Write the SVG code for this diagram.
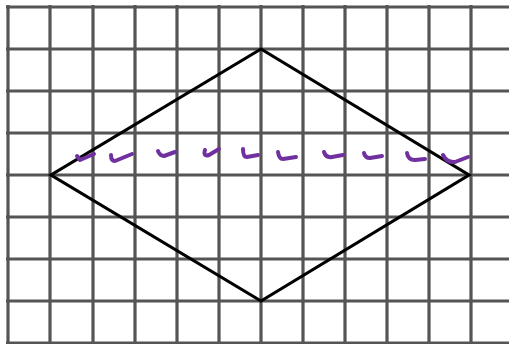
<svg xmlns="http://www.w3.org/2000/svg" width="509" height="344" viewBox="0 0 509 344">
<style>
.g line{stroke:#555;stroke-width:3.2}
.shape{fill:none;stroke:#000;stroke-width:3.2;stroke-linejoin:miter}
.m path{fill:none;stroke:#7030a0;stroke-width:4;stroke-linecap:round;stroke-linejoin:round}
</style>
<rect width="509" height="344" fill="#fff"/>
<g id="grid" class="g">
<line x1="8" y1="5" x2="8" y2="344"/>
<line x1="50" y1="5" x2="50" y2="344"/>
<line x1="93" y1="5" x2="93" y2="344"/>
<line x1="135" y1="5" x2="135" y2="344"/>
<line x1="177" y1="5" x2="177" y2="344"/>
<line x1="219" y1="5" x2="219" y2="344"/>
<line x1="261" y1="5" x2="261" y2="344"/>
<line x1="303" y1="5" x2="303" y2="344"/>
<line x1="345" y1="5" x2="345" y2="344"/>
<line x1="387" y1="5" x2="387" y2="344"/>
<line x1="429" y1="5" x2="429" y2="344"/>
<line x1="471" y1="5" x2="471" y2="344"/>
<line x1="6" y1="7" x2="509" y2="7"/>
<line x1="6" y1="49" x2="509" y2="49"/>
<line x1="6" y1="91" x2="509" y2="91"/>
<line x1="6" y1="133" x2="509" y2="133"/>
<line x1="6" y1="175" x2="509" y2="175"/>
<line x1="6" y1="217" x2="509" y2="217"/>
<line x1="6" y1="259" x2="509" y2="259"/>
<line x1="6" y1="301" x2="509" y2="301"/>
<line x1="6" y1="343" x2="509" y2="343"/>
</g>
<g id="rhombus">
<polygon class="shape" points="261,49 469,175 261,301 51,175"/>
</g>
<g id="marks" class="m">
<path d="M77,156 L80,160 L94,154"/>
<path d="M111,155 Q111,161 115,161 L132,154"/>
<path d="M158,151 Q160,156 164,156 L175,152"/>
<path d="M205,150 Q203,157 209,155 L219,149"/>
<path d="M243,149 Q243,157 247,157 L258,155"/>
<path d="M278,152 Q279,159 283,159 L296,157"/>
<path d="M324,152 Q326,158 332,157 L343,155"/>
<path d="M364,153 Q365,158 370,158 L382,156"/>
<path d="M407,153 Q408,160 415,160 L425,159"/>
<path d="M443,155 Q447,163 455,162 L468,157"/>
</g>
</svg>
